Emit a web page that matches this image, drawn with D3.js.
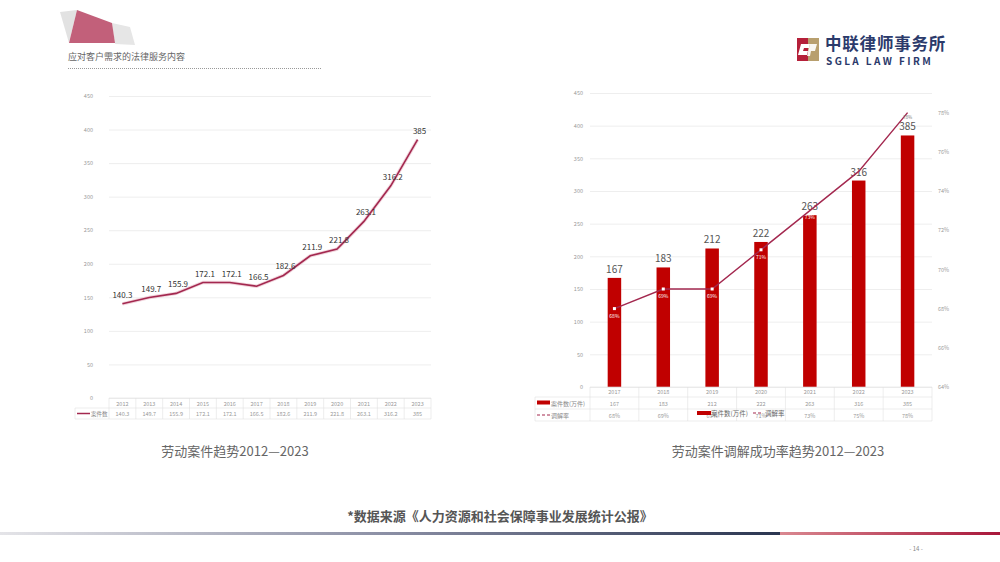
<!DOCTYPE html>
<html><head><meta charset="utf-8">
<script src="https://cdn.jsdelivr.net/npm/d3@7/dist/d3.min.js"></script>
<style>body{margin:0;background:#fff}svg{display:block}text{font-family:"Noto Sans CJK SC","Noto Sans",sans-serif}</style>
</head><body><svg id="c" width="1000" height="562"></svg>
<script>
// ---- data ----
const yearsA = ["2012","2013","2014","2015","2016","2017","2018","2019","2020","2021","2022","2023"];
const casesA = [140.3,149.7,155.9,172.1,172.1,166.5,182.6,211.9,221.8,263.1,316.2,385];
const yearsB = ["2017","2018","2019","2020","2021","2022","2023"];
const casesB = [167,183,212,222,263,316,385];
const rateB = [0.68,0.69,0.69,0.71,0.73,0.75,0.78];
const leftTicks = [0,50,100,150,200,250,300,350,400,450];
const rightTicks = [0.64,0.66,0.68,0.70,0.72,0.74,0.76,0.78];

const svg = d3.select("#c");
const CJK = '"Noto Sans CJK SC","Noto Sans",sans-serif';

// ---- header decoration ----
svg.append("polygon").attr("points","60,12 77,10 69,43").attr("fill","#e2e2e2");
svg.append("polygon").attr("points","112,23 130,27 135,45 115,44").attr("fill","#e6e6e6");
svg.append("polygon").attr("points","77,10 112,23 115,43 69,43").attr("fill","#c2607a");
svg.append("text").attr("x",68).attr("y",60).attr("font-size",9).attr("fill","#666").text("应对客户需求的法律服务内容");
svg.append("line").attr("x1",68).attr("x2",322).attr("y1",68.5).attr("y2",68.5)
  .attr("stroke","#999").attr("stroke-width",1).attr("stroke-dasharray","1,1");

// ---- logo ----
const lg = svg.append("g");
lg.append("rect").attr("x",797).attr("y",38).attr("width",11).attr("height",23).attr("fill","#b5203a");
lg.append("rect").attr("x",808).attr("y",38).attr("width",11).attr("height",23).attr("fill","#b89f6e");
lg.append("path").attr("d","M801,44 h9 l-1,4 h-5 l-1,3 h5 l-1,4 h-9 z").attr("fill","#fff");
lg.append("path").attr("d","M810,44 h7 l-2,7 h-4 l-1,5 h-3 z").attr("fill","#fff").attr("opacity",0.9);
lg.append("text").attr("x",825).attr("y",50).attr("font-size",16.5).attr("font-weight","bold").attr("fill","#2b3a6b").attr("letter-spacing",0.8).text("中联律师事务所");
lg.append("text").attr("x",826).attr("y",65).attr("font-size",10).attr("font-weight","bold").attr("fill","#2b3a6b").attr("letter-spacing",2.4).attr("font-family","DejaVu Sans, sans-serif").text("SGLA LAW FIRM");

// ---- left chart ----
const xL = d3.scaleBand().domain(yearsA).range([109,431]);
const yL = d3.scaleLinear().domain([0,450]).range([398,96]);
const gL = svg.append("g");
gL.append("g").attr("transform","translate(109,0)")
  .call(d3.axisLeft(yL).tickValues(leftTicks).tickSize(-(431-109)).tickPadding(16))
  .call(g=>g.select(".domain").remove())
  .call(g=>g.selectAll(".tick line").attr("stroke","#eeeeee"))
  .call(g=>g.selectAll(".tick text").attr("font-size",5.5).attr("fill","#999").attr("font-family",CJK));
const lineL = d3.line().x((d,i)=>xL(yearsA[i])+xL.bandwidth()/2).y(d=>yL(d));
gL.append("path").datum(casesA).attr("d",lineL).attr("fill","none").attr("stroke","#e8b7c5").attr("stroke-width",3.5).attr("opacity",0.6);
gL.append("path").datum(casesA).attr("d",lineL).attr("fill","none").attr("stroke","#a3284f").attr("stroke-width",1.6);
gL.selectAll(".lbl").data(casesA).join("text")
  .attr("x",(d,i)=>xL(yearsA[i])+xL.bandwidth()/2+(i===0?0:2)).attr("y",d=>yL(d)-6)
  .attr("text-anchor","middle").attr("font-size",8).attr("fill","#333").text(d=>d);
// table
const tL = gL.append("g").attr("stroke","#e0e0e0").attr("stroke-width",0.6);
tL.append("line").attr("x1",109).attr("x2",431).attr("y1",398).attr("y2",398);
tL.append("line").attr("x1",75).attr("x2",431).attr("y1",408).attr("y2",408);
tL.append("line").attr("x1",75).attr("x2",431).attr("y1",419).attr("y2",419);
tL.append("line").attr("x1",75).attr("x2",75).attr("y1",408).attr("y2",419);
tL.selectAll(".v").data(yearsA.concat(["end"])).join("line")
  .attr("x1",(d,i)=>i<yearsA.length?xL(d):431).attr("x2",(d,i)=>i<yearsA.length?xL(d):431)
  .attr("y1",398).attr("y2",419);
gL.selectAll(".yr").data(yearsA).join("text").attr("x",d=>xL(d)+xL.bandwidth()/2).attr("y",405.5)
  .attr("text-anchor","middle").attr("font-size",5.5).attr("fill","#999").text(d=>d);
gL.selectAll(".vl").data(casesA).join("text").attr("x",(d,i)=>xL(yearsA[i])+xL.bandwidth()/2).attr("y",416)
  .attr("text-anchor","middle").attr("font-size",5.5).attr("fill","#999").text(d=>d);
gL.append("line").attr("x1",77).attr("x2",90).attr("y1",413.5).attr("y2",413.5).attr("stroke","#a3284f").attr("stroke-width",1.5);
gL.append("text").attr("x",91).attr("y",416).attr("font-size",5.5).attr("fill","#888").text("案件数");
svg.append("text").attr("x",235).attr("y",456).attr("text-anchor","middle").attr("font-size",13).attr("fill","#666").text("劳动案件趋势2012—2023");

// ---- right chart ----
const xR = d3.scaleBand().domain(yearsB).range([590,932]);
const yR = d3.scaleLinear().domain([0,450]).range([387,93]);
const yR2 = d3.scaleLinear().domain([0.64,0.79]).range([387,93]);
const gR = svg.append("g");
gR.append("g").attr("transform","translate(590,0)")
  .call(d3.axisLeft(yR).tickValues(leftTicks).tickSize(-(932-590)).tickPadding(7))
  .call(g=>g.select(".domain").remove())
  .call(g=>g.selectAll(".tick line").attr("stroke","#eeeeee"))
  .call(g=>g.selectAll(".tick text").attr("font-size",5.5).attr("fill","#999").attr("font-family",CJK));
gR.append("g").attr("transform","translate(932,0)")
  .call(d3.axisRight(yR2).tickValues(rightTicks).tickSize(0).tickPadding(6).tickFormat(d3.format(".0%")))
  .call(g=>g.select(".domain").remove())
  .call(g=>g.selectAll(".tick text").attr("font-size",5.5).attr("fill","#999").attr("font-family",CJK));
const bw = 13.5;
gR.selectAll(".bar").data(casesB).join("rect")
  .attr("x",(d,i)=>xR(yearsB[i])+xR.bandwidth()/2-bw/2).attr("width",bw)
  .attr("y",d=>yR(d)).attr("height",d=>yR(0)-yR(d)).attr("fill","#c00000");
gR.selectAll(".bl").data(casesB).join("text")
  .attr("x",(d,i)=>xR(yearsB[i])+xR.bandwidth()/2).attr("y",d=>yR(d)-5)
  .attr("text-anchor","middle").attr("font-size",10).attr("fill","#555").text(d=>d);
const lineR = d3.line().x((d,i)=>xR(yearsB[i])+xR.bandwidth()/2).y(d=>yR2(d));
gR.append("path").datum(rateB).attr("d",lineR).attr("fill","none").attr("stroke","#a3284f").attr("stroke-width",1.4);
const mk = [0,1,2,3];
gR.selectAll(".mk").data(mk).join("rect")
  .attr("x",i=>xR(yearsB[i])+xR.bandwidth()/2-1.5).attr("y",i=>yR2(rateB[i])-1.5)
  .attr("width",3).attr("height",3).attr("fill","#fff");
gR.selectAll(".rl").data([0,1,2,3,4]).join("text")
  .attr("x",i=>xR(yearsB[i])+xR.bandwidth()/2).attr("y",i=>yR2(rateB[i])+(i===4?8:9))
  .attr("text-anchor","middle").attr("font-size",5).attr("fill","#fff").text(i=>d3.format(".0%")(rateB[i]));
gR.append("text").attr("x",xR("2023")+xR.bandwidth()/2).attr("y",yR2(rateB[6])+6)
  .attr("text-anchor","middle").attr("font-size",4.5).attr("fill","#777").text(d3.format(".0%")(rateB[6]));
// table
const tR = gR.append("g").attr("stroke","#e0e0e0").attr("stroke-width",0.6);
tR.append("line").attr("x1",590).attr("x2",932).attr("y1",387).attr("y2",387);
[397,409,421].forEach(y=>tR.append("line").attr("x1",535).attr("x2",932).attr("y1",y).attr("y2",y));
tR.append("line").attr("x1",535).attr("x2",535).attr("y1",397).attr("y2",421);
tR.selectAll(".v").data(yearsB.concat(["end"])).join("line")
  .attr("x1",(d,i)=>i<yearsB.length?xR(d):932).attr("x2",(d,i)=>i<yearsB.length?xR(d):932)
  .attr("y1",387).attr("y2",421);
gR.selectAll(".yr").data(yearsB).join("text").attr("x",d=>xR(d)+xR.bandwidth()/2).attr("y",394)
  .attr("text-anchor","middle").attr("font-size",5.5).attr("fill","#999").text(d=>d);
gR.selectAll(".cv").data(casesB).join("text").attr("x",(d,i)=>xR(yearsB[i])+xR.bandwidth()/2).attr("y",405.5)
  .attr("text-anchor","middle").attr("font-size",5.5).attr("fill","#999").text(d=>d);
gR.selectAll(".rv").data(rateB).join("text").attr("x",(d,i)=>xR(yearsB[i])+xR.bandwidth()/2).attr("y",417.5)
  .attr("text-anchor","middle").attr("font-size",5.5).attr("fill","#999").text(d=>d3.format(".0%")(d));
gR.append("rect").attr("x",537).attr("y",400.5).attr("width",13).attr("height",4).attr("fill","#c00000");
gR.append("text").attr("x",551).attr("y",405.5).attr("font-size",6).attr("fill","#888").text("案件数(万件)");
gR.append("line").attr("x1",537).attr("x2",550).attr("y1",415).attr("y2",415).attr("stroke","#a3284f").attr("stroke-width",1.2).attr("stroke-dasharray","3,2");
gR.append("text").attr("x",551).attr("y",417.5).attr("font-size",6).attr("fill","#888").text("调解率");
// overlapping legend (as in the source image)
gR.append("rect").attr("x",697).attr("y",411).attr("width",14).attr("height",4).attr("fill","#c00000");
gR.append("text").attr("x",711).attr("y",415.5).attr("font-size",6.5).attr("fill","#666").text("案件数(万件)");
gR.append("line").attr("x1",753).attr("x2",763).attr("y1",413).attr("y2",413).attr("stroke","#a3284f").attr("stroke-width",1.2).attr("stroke-dasharray","3,2");
gR.append("text").attr("x",765).attr("y",415.5).attr("font-size",6.5).attr("fill","#666").text("调解率");
svg.append("text").attr("x",778).attr("y",456).attr("text-anchor","middle").attr("font-size",13).attr("fill","#666").text("劳动案件调解成功率趋势2012—2023");

// ---- footer ----
svg.append("text").attr("x",500).attr("y",521).attr("text-anchor","middle").attr("font-size",13).attr("font-weight","bold").attr("fill","#555").text("*数据来源《人力资源和社会保障事业发展统计公报》");
const defs = svg.append("defs");
const g1 = defs.append("linearGradient").attr("id","gb");
g1.append("stop").attr("offset","0").attr("stop-color","#e4e4e8");
g1.append("stop").attr("offset","0.5").attr("stop-color","#8a8ea4");
g1.append("stop").attr("offset","1").attr("stop-color","#2a3550");
const g2 = defs.append("linearGradient").attr("id","gr");
g2.append("stop").attr("offset","0").attr("stop-color","#d98890");
g2.append("stop").attr("offset","1").attr("stop-color","#a8163a");
svg.append("rect").attr("x",0).attr("y",532).attr("width",780).attr("height",3).attr("fill","url(#gb)");
svg.append("rect").attr("x",780).attr("y",532).attr("width",220).attr("height",3).attr("fill","url(#gr)");
svg.append("text").attr("x",916).attr("y",551).attr("text-anchor","middle").attr("font-size",6).attr("fill","#888").text("- 14 -");
</script></body></html>
